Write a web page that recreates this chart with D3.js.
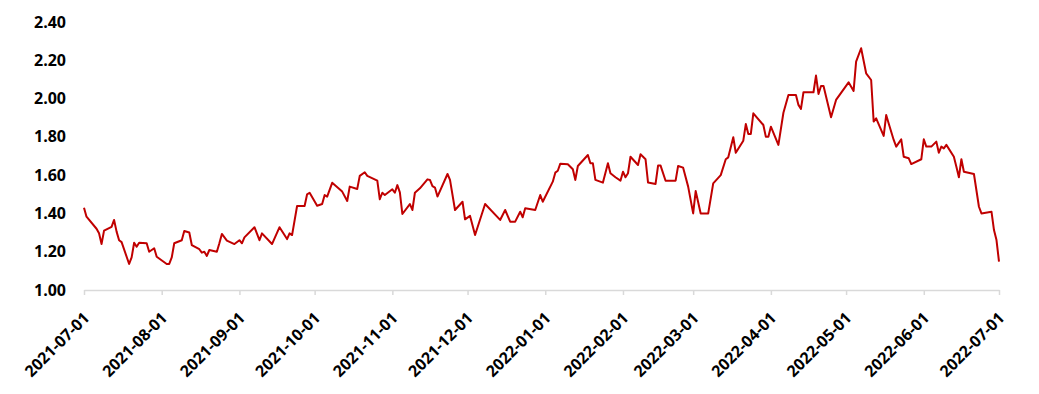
<!DOCTYPE html>
<html>
<head>
<meta charset="utf-8">
<script src="https://cdn.jsdelivr.net/npm/d3@7"></script>
<style>
  html, body { margin: 0; padding: 0; background: #ffffff; }
  svg { display: block; }
</style>
</head>
<body>
<svg id="chart" width="1039" height="394"></svg>
<script>
const dates = [
  "2021-07-01","2021-07-02","2021-07-06","2021-07-07","2021-07-08","2021-07-09","2021-07-12","2021-07-13","2021-07-14","2021-07-15",
  "2021-07-16","2021-07-19","2021-07-20","2021-07-21","2021-07-22","2021-07-23","2021-07-26","2021-07-27","2021-07-29","2021-07-30",
  "2021-08-03","2021-08-04","2021-08-05","2021-08-06","2021-08-09","2021-08-10","2021-08-12","2021-08-13","2021-08-16","2021-08-17",
  "2021-08-18","2021-08-19","2021-08-20","2021-08-23","2021-08-24","2021-08-25","2021-08-27","2021-08-30",
  "2021-09-01","2021-09-02","2021-09-03","2021-09-07","2021-09-09","2021-09-10","2021-09-14","2021-09-17","2021-09-20","2021-09-21",
  "2021-09-22","2021-09-24","2021-09-27","2021-09-28","2021-09-29",
  "2021-10-02","2021-10-04","2021-10-05","2021-10-06","2021-10-08","2021-10-12","2021-10-14","2021-10-15","2021-10-18","2021-10-19",
  "2021-10-21","2021-10-22","2021-10-26","2021-10-27","2021-10-28","2021-10-29",
  "2021-11-01","2021-11-02","2021-11-03","2021-11-04","2021-11-05","2021-11-08","2021-11-09","2021-11-10","2021-11-12","2021-11-15",
  "2021-11-16","2021-11-17","2021-11-18","2021-11-19","2021-11-23","2021-11-24","2021-11-26","2021-11-29","2021-11-30",
  "2021-12-02","2021-12-04","2021-12-08","2021-12-14","2021-12-16","2021-12-18","2021-12-20","2021-12-22","2021-12-23","2021-12-24",
  "2021-12-28","2021-12-30","2021-12-31",
  "2022-01-04","2022-01-05","2022-01-06","2022-01-07","2022-01-10","2022-01-12","2022-01-13","2022-01-14","2022-01-18","2022-01-19",
  "2022-01-20","2022-01-21","2022-01-24","2022-01-26","2022-01-27","2022-01-29","2022-01-31",
  "2022-02-01","2022-02-02","2022-02-03","2022-02-04","2022-02-07","2022-02-08","2022-02-10","2022-02-11","2022-02-14","2022-02-15",
  "2022-02-16","2022-02-18","2022-02-22","2022-02-23","2022-02-25","2022-02-27",
  "2022-03-01","2022-03-02","2022-03-04","2022-03-07","2022-03-09","2022-03-12","2022-03-14","2022-03-15","2022-03-17","2022-03-18",
  "2022-03-21","2022-03-22","2022-03-23","2022-03-24","2022-03-25","2022-03-29","2022-03-30","2022-03-31",
  "2022-04-01","2022-04-04","2022-04-06","2022-04-08","2022-04-11","2022-04-12","2022-04-13","2022-04-14","2022-04-18","2022-04-19",
  "2022-04-20","2022-04-21","2022-04-22","2022-04-25","2022-04-27",
  "2022-05-02","2022-05-04","2022-05-05","2022-05-07","2022-05-09","2022-05-11","2022-05-12","2022-05-13","2022-05-16","2022-05-17",
  "2022-05-18","2022-05-20","2022-05-21","2022-05-23","2022-05-24","2022-05-26","2022-05-27","2022-05-31",
  "2022-06-01","2022-06-02","2022-06-04","2022-06-06","2022-06-07","2022-06-08","2022-06-09","2022-06-10","2022-06-13","2022-06-14",
  "2022-06-15","2022-06-16","2022-06-17","2022-06-21","2022-06-23","2022-06-24","2022-06-28","2022-06-29","2022-06-30","2022-07-01"
];
const values = [
  1.43,1.383,1.32,1.296,1.24,1.31,1.33,1.366,1.305,1.26,
  1.25,1.136,1.17,1.247,1.226,1.247,1.244,1.20,1.218,1.174,
  1.136,1.136,1.17,1.244,1.26,1.308,1.30,1.235,1.213,1.195,
  1.20,1.178,1.209,1.20,1.244,1.293,1.258,1.24,
  1.26,1.244,1.275,1.328,1.26,1.296,1.24,1.328,1.266,1.296,
  1.287,1.439,1.439,1.50,1.508,
  1.44,1.449,1.496,1.488,1.56,1.514,1.465,1.54,1.528,1.596,
  1.615,1.596,1.571,1.474,1.508,1.496,
  1.526,1.508,1.548,1.51,1.397,1.449,1.418,1.508,1.531,1.578,
  1.575,1.543,1.535,1.488,1.606,1.575,1.418,1.461,1.369,
  1.387,1.287,1.449,1.366,1.418,1.357,1.357,1.409,1.38,1.427,
  1.418,1.496,1.461,
  1.566,1.613,1.623,1.66,1.657,1.631,1.575,1.648,1.705,1.662,
  1.662,1.575,1.561,1.662,1.61,1.589,1.571,
  1.618,1.589,1.61,1.696,1.653,1.709,1.683,1.561,1.554,1.65,
  1.65,1.571,1.571,1.648,1.639,1.54,
  1.40,1.517,1.40,1.40,1.557,1.60,1.683,1.693,1.798,1.717,
  1.78,1.867,1.815,1.815,1.923,1.862,1.80,1.80,
  1.853,1.758,1.926,2.019,2.019,1.967,1.946,2.033,2.033,2.12,
  2.024,2.066,2.066,1.902,1.993,
  2.085,2.04,2.193,2.263,2.132,2.097,1.88,1.897,1.805,1.914,
  1.87,1.784,1.749,1.787,1.696,1.688,1.658,1.683,
  1.787,1.749,1.749,1.775,1.717,1.749,1.74,1.758,1.696,1.644,
  1.589,1.683,1.618,1.606,1.435,1.40,1.409,1.313,1.261,1.148
];
const yTicks = [1.00, 1.20, 1.40, 1.60, 1.80, 2.00, 2.20, 2.40];
const xTickLabels = [
  "2021-07-01","2021-08-01","2021-09-01","2021-10-01","2021-11-01","2021-12-01",
  "2022-01-01","2022-02-01","2022-03-01","2022-04-01","2022-05-01","2022-06-01","2022-07-01"
];

const W = 1039, H = 394;
const margin = { top: 22, right: 40, bottom: 104, left: 84 };
const parse = d3.timeParse("%Y-%m-%d");
const fmt = d3.timeFormat("%Y-%m-%d");
const data = dates.map((d, i) => ({ date: parse(d), value: values[i] }));

const svg = d3.select("#chart");
const x = d3.scaleTime()
  .domain([parse(xTickLabels[0]), parse(xTickLabels[xTickLabels.length - 1])])
  .range([margin.left, W - margin.right]);
const y = d3.scaleLinear()
  .domain([1.0, 2.4])
  .range([H - margin.bottom, margin.top]);

const FONT = "'Open Sans', 'Liberation Sans', sans-serif";

// Y axis (labels only)
const gy = svg.append("g")
  .attr("transform", `translate(${margin.left},0)`)
  .call(d3.axisLeft(y).tickValues(yTicks).tickFormat(d3.format(".2f")).tickSize(0).tickPadding(18));
gy.select(".domain").remove();
gy.selectAll("text")
  .attr("fill", "#000")
  .style("font-family", FONT)
  .style("font-weight", "700")
  .style("font-size", "16px");

// X axis
const gx = svg.append("g")
  .attr("transform", `translate(0,${H - margin.bottom})`)
  .call(d3.axisBottom(x).tickValues(xTickLabels.map(parse)).tickFormat(fmt).tickSize(5).tickSizeOuter(0));
gx.select(".domain").attr("stroke", "#d9d9d9").attr("stroke-width", 1.5);
gx.selectAll(".tick line").attr("stroke", "#d9d9d9").attr("stroke-width", 1.5);
gx.selectAll(".tick text")
  .attr("fill", "#000")
  .attr("text-anchor", "end")
  .attr("x", 0).attr("y", 0).attr("dy", "0.35em")
  .attr("transform", "translate(2,25) rotate(-45)")
  .style("font-family", FONT)
  .style("font-weight", "700")
  .style("font-size", "16px");

// Line
const line = d3.line()
  .x(d => x(d.date))
  .y(d => y(d.value));
svg.append("path")
  .datum(data)
  .attr("fill", "none")
  .attr("stroke", "#c00000")
  .attr("stroke-width", 2)
  .attr("stroke-linejoin", "round")
  .attr("d", line);
</script>
</body>
</html>
